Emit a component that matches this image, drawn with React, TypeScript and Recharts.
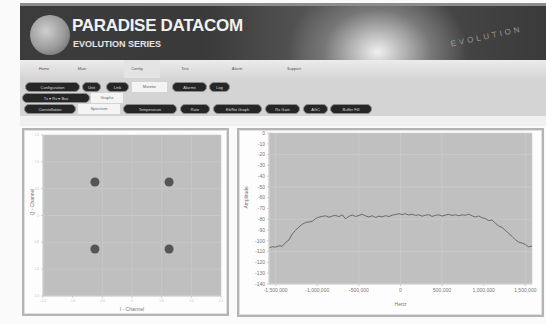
import React from 'react';
import {
  LineChart, Line, ScatterChart, Scatter, XAxis, YAxis, ZAxis, CartesianGrid,
} from 'recharts';

// ---- Constellation (left) ----
const iChannel = [-1, 1, -1, 1];
const qChannel = [1, 1, -1, -1];
const constTicks = [-2.4, -1.6, -0.8, 0, 0.8, 1.6, 2.4];

// ---- Spectrum (right) ----
const frequencies = [
  -1580000, -1540000, -1500000, -1460000, -1420000, -1380000, -1340000, -1300000,
  -1260000, -1220000, -1180000, -1140000, -1100000, -1060000, -1020000, -980000,
  -940000, -900000, -860000, -820000, -780000, -740000, -700000, -660000,
  -620000, -580000, -540000, -500000, -460000, -420000, -380000, -340000,
  -300000, -260000, -220000, -180000, -140000, -100000, -60000, -20000,
  20000, 60000, 100000, 140000, 180000, 220000, 260000, 300000,
  340000, 380000, 420000, 460000, 500000, 540000, 580000, 620000,
  660000, 700000, 740000, 780000, 820000, 860000, 900000, 940000,
  980000, 1020000, 1060000, 1100000, 1140000, 1180000, 1220000, 1260000,
  1300000, 1340000, 1380000, 1420000, 1460000, 1500000, 1540000, 1580000,
];
const amplitude = [
  -106.5, -105.5, -105.8, -104.6, -104.9, -101.5, -99.2, -93.5,
  -90.2, -87.1, -84.6, -83.0, -82.5, -81.8, -79.4, -78.0,
  -77.3, -76.8, -78.1, -77.0, -76.4, -77.6, -75.8, -79.6,
  -77.2, -76.1, -77.4, -76.5, -75.4, -76.8, -77.9, -76.7,
  -78.3, -77.1, -77.8, -76.6, -77.5, -76.2, -75.6, -74.8,
  -75.6, -74.9, -76.0, -75.3, -76.4, -75.8, -77.1, -76.2,
  -75.7, -77.4, -76.3, -75.9, -77.0, -76.1, -75.4, -76.5,
  -75.8, -76.7, -75.9, -76.3, -75.2, -76.8, -77.9, -76.9,
  -78.6, -79.4, -81.2, -80.6, -83.7, -86.2, -87.5, -90.3,
  -93.1, -95.8, -98.9, -101.2, -102.0, -103.4, -105.6, -104.8,
];
const freqTicks = [-1500000, -1000000, -500000, 0, 500000, 1000000, 1500000];
const ampTicks = [0, -10, -20, -30, -40, -50, -60, -70, -80, -90, -100, -110, -120, -130, -140];

// ---- page texts ----
const menuItems = ['Home', 'Main', 'Config', 'Test', 'Alarm', 'Support'];
const menuX = [44, 82, 137, 185, 237, 294];

const FONT = '"Liberation Sans", Arial, sans-serif';

const constData = iChannel.map((v, i) => ({ i: v, q: qChannel[i] }));
const specData = frequencies.map((f, i) => ({ f, a: amplitude[i] }));

type Pill = { l: number; w: number; t: string; white?: boolean };
const row1: Pill[] = [
  { l: 25, w: 55, t: 'Configuration' },
  { l: 82, w: 19, t: 'Unit' },
  { l: 106, w: 23, t: 'Link' },
  { l: 132, w: 35, t: 'Monitor', white: true },
  { l: 172, w: 35, t: 'Alarms' },
  { l: 209, w: 21, t: 'Log' },
];
const row2: Pill[] = [
  { l: 22, w: 68, t: 'Tx ▾ Rx ▾ Bus' },
  { l: 91, w: 32, t: 'Graphs', white: true },
];
const row3: Pill[] = [
  { l: 24, w: 52, t: 'Constellation' },
  { l: 78, w: 42, t: 'Spectrum', white: true },
  { l: 123, w: 54, t: 'Temperature' },
  { l: 180, w: 30, t: 'Rate' },
  { l: 213, w: 49, t: 'Eb/No Graph' },
  { l: 265, w: 35, t: 'Rx Gain' },
  { l: 303, w: 25, t: 'AGC' },
  { l: 330, w: 42, t: 'Buffer Fill' },
];

function PillRow({ items, top, h }: { items: Pill[]; top: number; h: number }) {
  return (
    <>
      {items.map((p) => (
        <div
          key={p.t}
          style={{
            position: 'absolute', left: p.l, top, width: p.w, height: h,
            background: p.white ? '#f4f4f4' : '#262626',
            border: p.white ? 'none' : '1px solid #8a8a8a',
            borderRadius: p.white ? 0 : 5,
            boxSizing: 'border-box',
            color: p.white ? '#666' : '#ddd',
            fontSize: 4, lineHeight: `${h - 1}px`, textAlign: 'center',
            fontFamily: FONT, overflow: 'hidden', whiteSpace: 'nowrap',
          }}
        >
          {p.t}
        </div>
      ))}
    </>
  );
}

export default function App() {
  return (
    <div style={{ position: 'fixed', left: 0, top: 0, width: 546, height: 324, background: '#fafafa', overflow: 'hidden', fontFamily: FONT }}>
      {/* Banner */}
      <div style={{
        position: 'absolute', left: 20, top: 3, width: 526, height: 57,
        background: 'radial-gradient(ellipse 90px 70px at 68% 85%, #f0f0f0 0%, #bdbdbd 25%, #777 60%, rgba(70,70,70,0) 100%), linear-gradient(90deg, #3c3c3c 0%, #3a3a3a 35%, #555 55%, #4a4a4a 75%, #3a3a3a 100%)',
        borderTop: '3px solid #8c8c8c', boxSizing: 'border-box',
      }}>
        <div style={{
          position: 'absolute', left: 10, top: 9, width: 40, height: 40, borderRadius: 20,
          background: 'radial-gradient(circle at 40% 40%, #cfcfcf 0%, #9a9a9a 55%, #5a5a5a 100%)',
        }} />
        <div style={{ position: 'absolute', left: 52, top: 10, color: '#f2f2f2', fontSize: 17, fontWeight: 'bold', letterSpacing: -0.3, whiteSpace: 'nowrap' }}>
          PARADISE DATACOM
        </div>
        <div style={{ position: 'absolute', left: 53, top: 33, color: '#e6e6e6', fontSize: 9, fontWeight: 'bold', whiteSpace: 'nowrap' }}>
          EVOLUTION SERIES
        </div>
        <div style={{ position: 'absolute', left: 430, top: 26, color: '#9a9a9a', fontSize: 8, letterSpacing: 3, transform: 'rotate(-12deg)', whiteSpace: 'nowrap' }}>
          EVOLUTION
        </div>
      </div>

      {/* Menu bar */}
      <div style={{ position: 'absolute', left: 20, top: 60, width: 526, height: 18, background: 'linear-gradient(180deg, #ececec 0%, #d6d6d6 100%)' }} />
      <div style={{ position: 'absolute', left: 124, top: 60, width: 36, height: 18, background: '#e4e4e4' }} />
      {menuItems.map((m, k) => (
        <div key={m} style={{ position: 'absolute', left: menuX[k] - 15, top: 66, width: 30, textAlign: 'center', fontSize: 4, color: '#555' }}>{m}</div>
      ))}

      {/* Tabs area */}
      <div style={{ position: 'absolute', left: 20, top: 78, width: 526, height: 38, background: '#d4d4d4' }} />
      <PillRow items={row1} top={82} h={10} />
      <PillRow items={row2} top={93} h={10} />
      <PillRow items={row3} top={104} h={10} />
      <div style={{ position: 'absolute', left: 20, top: 116, width: 526, height: 10, background: '#f0f0f0' }} />

      {/* Left panel */}
      <div style={{ position: 'absolute', left: 22, top: 128, width: 207, height: 188, border: '2px solid #b4b4b4', boxShadow: 'inset 0 0 0 1px #e0e0e0', background: '#fdfdfd', boxSizing: 'border-box' }} />
      <div style={{ position: 'absolute', left: 22, top: 128 }}>
        <ScatterChart width={207} height={188} margin={{ top: 7, right: 8, bottom: 0, left: 0 }}>
          <CartesianGrid fill="#bfbfbf" stroke="#cdcdcd" strokeWidth={0.6} />
          <XAxis
            type="number" dataKey="i" domain={[-2.4, 2.4]} ticks={constTicks} height={20}
            tick={{ fontSize: 3, fill: '#c4c4c4' }} tickSize={2} stroke="#cfcfcf"
            label={{ value: 'I - Channel', position: 'insideBottom', offset: 5, fontSize: 5, fill: '#777' }}
          />
          <YAxis
            type="number" dataKey="q" domain={[-2.4, 2.4]} ticks={constTicks} width={21}
            tick={{ fontSize: 3, fill: '#c4c4c4' }} tickSize={2} stroke="#cfcfcf"
            label={{ value: 'Q - Channel', angle: -90, position: 'insideLeft', offset: 10, fontSize: 5, fill: '#777' }}
          />
          <ZAxis range={[110, 110]} />
          <Scatter data={constData} fill="#555555" isAnimationActive={false} />
        </ScatterChart>
      </div>

      {/* Right panel */}
      <div style={{ position: 'absolute', left: 237, top: 128, width: 307, height: 189, border: '2px solid #b4b4b4', boxShadow: 'inset 0 0 0 1px #e0e0e0', background: '#fdfdfd', boxSizing: 'border-box' }} />
      <div style={{ position: 'absolute', left: 237, top: 128 }}>
        <LineChart width={306} height={189} data={specData} margin={{ top: 5, right: 11, bottom: 0, left: 0 }}>
          <CartesianGrid fill="#c0c0c0" stroke="#cfcfcf" strokeWidth={0.6} />
          <XAxis
            type="number" dataKey="f" domain={[-1580000, 1580000]} ticks={freqTicks} height={33}
            tickFormatter={(v: number) => v.toLocaleString('en-US')}
            tick={{ fontSize: 5, fill: '#777' }} tickSize={2} stroke="#d0d0d0"
            label={{ value: 'Hertz', position: 'insideBottom', offset: 11, fontSize: 5, fill: '#777' }}
          />
          <YAxis
            type="number" domain={[-140, 0]} ticks={ampTicks} width={32}
            tick={{ fontSize: 5, fill: '#777' }} tickSize={2} stroke="#d0d0d0"
            label={{ value: 'Amplitude', angle: -90, position: 'insideLeft', offset: 9, fontSize: 5, fill: '#777' }}
          />
          <Line type="linear" dataKey="a" stroke="#6a6a6a" strokeWidth={1} dot={false} isAnimationActive={false} />
        </LineChart>
      </div>
    </div>
  );
}
